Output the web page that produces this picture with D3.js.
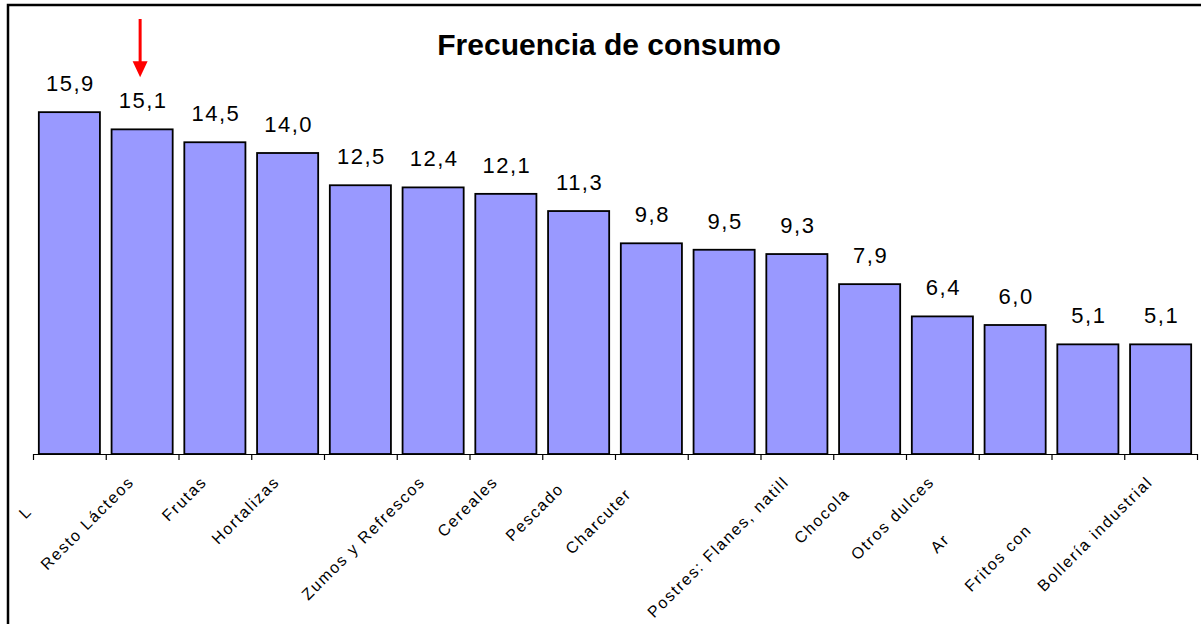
<!DOCTYPE html>
<html>
<head>
<meta charset="utf-8">
<script src="https://cdn.jsdelivr.net/npm/d3@7"></script>
<style>
  body { margin: 0; background: #fff; }
  svg { display: block; font-family: "Liberation Sans", Arial, sans-serif; }
</style>
</head>
<body>
<script>
const width = 1201,
  height = 624,
  marginLeft = 33,
  marginRight = 4,
  baseline = 454;

// categories (full names guessed where the picture cuts them off)
const categories = [
  "Leche", "Resto Lácteos", "Frutas", "Hortalizas", "", "Zumos y Refrescos",
  "Cereales", "Pescados", "Charcutería", "", "Postres: Flanes, natill",
  "Chocolate", "Otros dulces", "Arroz/pasta", "Fritos congelados", "Bollería industrial"
];
// how many characters of each label are actually visible in the chart
const shownChars = [1, 13, 6, 10, 0, 17, 8, 7, 9, 0, 23, 7, 12, 2, 10, 19];
const values = [15.9, 15.1, 14.5, 14.0, 12.5, 12.4, 12.1, 11.3, 9.8, 9.5, 9.3, 7.9, 6.4, 6.0, 5.1, 5.1];
const title = "Frecuencia de consumo";
const highlighted = 1;

const fmt = d3.formatLocale({ decimal: ",", thousands: ".", grouping: [3], currency: ["", "€"] }).format(".1f");

const svg = d3.select("body").append("svg")
  .attr("width", width)
  .attr("height", height);

// frame
svg.append("path")
  .attr("d", `M8,${height} V5 H${width}`)
  .attr("fill", "none")
  .attr("stroke", "#000")
  .attr("stroke-width", 2.5);

const idx = d3.range(values.length);

const x = d3.scaleBand()
  .domain(idx)
  .range([marginLeft, width - marginRight])
  .paddingInner(0.16)
  .paddingOuter(0.08);

const y = d3.scaleLinear().domain([0, 16]).range([baseline, 110]);

// axis with ticks between categories
const xTicks = d3.scaleLinear().domain([0, values.length]).range([marginLeft, width - marginRight]);
svg.append("g")
  .attr("transform", `translate(0,${baseline})`)
  .call(d3.axisBottom(xTicks).ticks(values.length).tickFormat("").tickSize(6).tickSizeOuter(0))
  .call(g => g.selectAll("path, line").attr("stroke", "#000").attr("stroke-width", 1.2));

// bars
svg.append("g")
  .selectAll("rect")
  .data(values)
  .join("rect")
  .attr("x", (_, i) => x(i))
  .attr("y", d => y(d))
  .attr("width", x.bandwidth())
  .attr("height", d => baseline - y(d))
  .attr("fill", "#9999ff")
  .attr("stroke", "#000")
  .attr("stroke-width", 1.8);

// value labels
svg.append("g")
  .selectAll("text")
  .data(values)
  .join("text")
  .attr("x", (_, i) => x(i) + x.bandwidth() / 2 + 1)
  .attr("y", d => y(d) - 21)
  .attr("text-anchor", "middle")
  .attr("font-size", 22)
  .attr("letter-spacing", 1.5)
  .text(d => fmt(d));

// category labels, rotated; the clipped part is kept but not painted
const lab = svg.append("g")
  .selectAll("text")
  .data(categories)
  .join("text")
  .attr("transform", (_, i) => `translate(${x(i) + x.bandwidth() / 2 - 7},483) rotate(-45)`)
  .attr("text-anchor", "end")
  .attr("font-size", 16)
  .attr("letter-spacing", 1.7);
lab.append("tspan").text((d, i) => d.slice(0, shownChars[i]));
lab.append("tspan").attr("fill", "none").text((d, i) => d.slice(shownChars[i]));

// title
svg.append("text")
  .attr("x", 609)
  .attr("y", 55)
  .attr("text-anchor", "middle")
  .attr("font-size", 30)
  .attr("font-weight", "bold")
  .text(title);

// red arrow pointing at the highlighted bar label
const ax = x(highlighted) + x.bandwidth() / 2 - 2,
  tip = y(values[highlighted]) - 52;
svg.append("line")
  .attr("x1", ax).attr("x2", ax)
  .attr("y1", 19).attr("y2", tip - 12)
  .attr("stroke", "#ff0000")
  .attr("stroke-width", 3);
svg.append("path")
  .attr("d", `M${ax - 7.5},${tip - 16} L${ax + 7.5},${tip - 16} L${ax},${tip} Z`)
  .attr("fill", "#ff0000");
</script>
</body>
</html>
